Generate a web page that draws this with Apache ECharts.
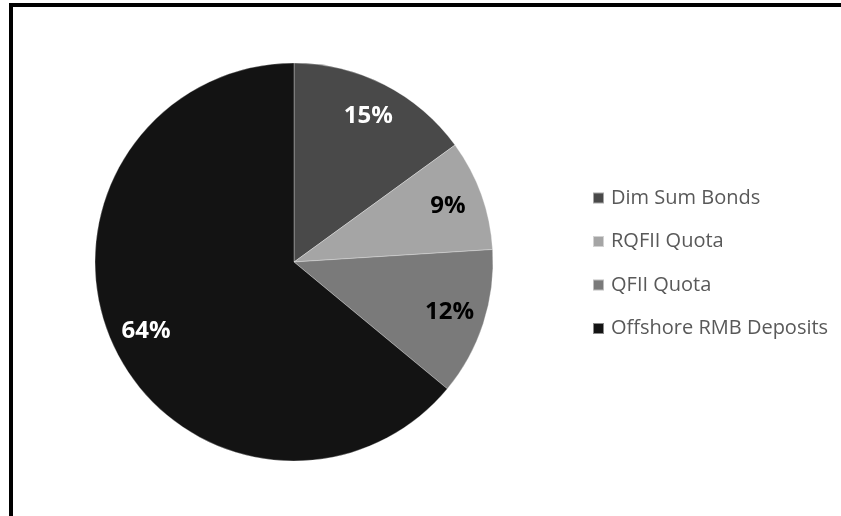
<!DOCTYPE html>
<html><head><meta charset="utf-8">
<script src="https://cdn.jsdelivr.net/npm/echarts@6/dist/echarts.min.js"></script>
<style>html,body{margin:0;padding:0;background:#fff}#c{width:841px;height:516px}</style>
</head><body><div id="c"></div>
<script>
const categories = ['Dim Sum Bonds', 'RQFII Quota', 'QFII Quota', 'Offshore RMB Deposits'];
const values = [15, 9, 12, 64];
const colors = ['#494949', '#a5a5a5', '#7a7a7a', '#131313'];
const labelColors = ['#ffffff', '#000000', '#000000', '#ffffff'];

const chart = echarts.init(document.getElementById('c'));
const data = categories.map((n, i) => ({name: n, value: values[i], itemStyle: {color: colors[i]}}));
const labelData = categories.map((n, i) => ({name: n, value: values[i],
  label: {color: labelColors[i]}}));
chart.setOption({
  animation: false,
  backgroundColor: '#fff',
  legend: {
    orient: 'vertical', left: 587, top: 183, itemWidth: 11, itemHeight: 11, itemGap: 23.5,
    icon: 'rect', data: categories,
    textStyle: {fontFamily: 'Open Sans', fontSize: 20, color: '#595959', padding: [0,0,0,2]}
  },
  graphic: [
    {type: 'rect', shape: {x: 9, y: 3, width: 832, height: 4}, style: {fill: '#000'}},
    {type: 'rect', shape: {x: 9, y: 3, width: 4, height: 513}, style: {fill: '#000'}}
  ],
  series: [
    {type: 'pie', center: [294, 262], radius: 199, startAngle: 90, clockwise: true,
     data: data, label: {show: false}, labelLine: {show: false},
     itemStyle: {borderColor: 'rgba(255,255,255,0.5)', borderWidth: 0.6},
     emphasis: {disabled: true}},
    {type: 'pie', center: [294, 262], radius: [122, 199], startAngle: 90, clockwise: true,
     data: labelData, silent: true, legendHoverLink: false,
     itemStyle: {color: 'transparent'},
     label: {show: true, position: 'inside', formatter: '{c}%', fontFamily: 'Open Sans',
             fontWeight: 'bold', fontSize: 24},
     labelLine: {show: false}, emphasis: {disabled: true}}
  ]
});
</script></body></html>
